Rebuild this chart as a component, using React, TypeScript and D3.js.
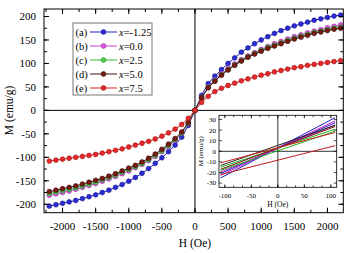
import React from "react";
import * as d3 from "d3";

const H = [-2200,-2100,-2000,-1900,-1800,-1700,-1600,-1500,-1400,-1300,-1200,-1100,-1000,-900,-800,-700,-600,-500,-400,-300,-200,-100,0,100,200,300,400,500,600,700,800,900,1000,1100,1200,1300,1400,1500,1600,1700,1800,1900,2000,2100,2200];

const mBlue = [-204,-201,-198,-195,-192,-188,-184,-180,-175,-170,-164,-158,-151,-143,-134,-124,-113,-101,-88,-74,-57,-32,0,32,57,73,87,100,112,124,133,142,150,157,164,170,175,180,184,188,192,195,198,201,203];
const mMagenta = [-181,-178,-175,-172,-168,-164,-160,-156,-151,-146,-141,-135,-129,-122,-115,-107,-98,-88,-77,-64,-49,-28,0,28,50,65,78,89,99,108,116,123,130,136,142,147,152,157,161,165,169,172,176,179,182];
const mGreen = [-177,-174,-171,-168,-165,-161,-157,-153,-148,-143,-138,-132,-126,-120,-113,-105,-96,-86,-75,-62,-48,-27,0,27,49,63,76,87,97,106,114,121,128,134,139,144,149,154,158,162,166,169,172,175,177];
const mBrown = [-173,-170,-167,-164,-161,-157,-153,-149,-145,-140,-135,-129,-123,-117,-110,-102,-93,-83,-72,-60,-46,-26,0,27,48,62,75,86,96,105,113,120,126,132,137,142,147,152,156,160,164,167,170,173,175];
const mRed = [-108,-106,-104,-102,-100,-98,-96,-94,-91,-88,-85,-82,-78,-74,-70,-66,-61,-55,-48,-40,-30,-17,0,17,30,40,47,53,58,63,67,71,75,78,82,85,88,91,93,96,98,100,102,104,106];

const seriesLabels = ["(a)", "(b)", "(c)", "(d)", "(e)"];
const seriesX = ["-1.25", "0.0", "2.5", "5.0", "7.5"];
const seriesData = [mBlue, mMagenta, mGreen, mBrown, mRed];
const seriesFill = ["#2b2bd6", "#e055e6", "#4fd24f", "#7a1a12", "#e8282a"];
const seriesStroke = ["#15158a", "#9a2aa0", "#2a8a2a", "#3a0a08", "#9a1010"];
const seriesLine = ["#2020c8", "#d040d8", "#30c030", "#401010", "#e02020"];

const xTicks = [-2000, -1500, -1000, -500, 0, 500, 1000, 1500, 2000];
const yTicks = [-200, -150, -100, -50, 0, 50, 100, 150, 200];

// inset: straight branch segments, M at H = -108 and H = 108
const insetH = [-108, 108];
const insetLeft = [-25.2, -21, -22.7, -19.6, -15, -18, -13.4, -17, -10.9, -22];
const insetRight = [31.8, 27, 28.7, 25, 20.9, 19, 24.6, 23.4, 17.8, 5.3];
const insetColor = ["#2020c0", "#2020c0", "#c020c8", "#c020c8", "#20b020", "#20b020", "#202020", "#7a1010", "#d02020", "#c01818"];
const insetXTicks = [-100, -50, 0, 50, 100];
const insetYTicks = [-30, -20, -10, 0, 10, 20, 30];

const FONT = '"Liberation Serif", "Times New Roman", serif';
const TS: React.CSSProperties = { fontFamily: FONT };

export default function App() {
  const x = d3.scaleLinear().domain([-2280, 2240]).range([44, 343.3]);
  const y = d3.scaleLinear().domain([-218, 216]).range([212.7, 9]);
  const [x0, x1] = x.range();
  const [y0, y1] = y.range();

  const xMinor = d3.range(-2250, 2250, 250).filter((v) => v >= -2280 && v <= 2240);
  const yMinor = d3.range(-200, 216, 25);

  const line = d3
    .line<number>()
    .x((_, i) => x(H[i]))
    .y((d) => y(d));

  const xi = d3.scaleLinear().domain([-111, 111]).range([219, 336.7]);
  const yi = d3.scaleLinear().domain([-34, 34]).range([187.3, 115.3]);
  const [xi0, xi1] = xi.range();
  const [yi0, yi1] = yi.range();
  const xiMinor = d3.range(-100, 111, 50 / 3);

  const legX = 73;
  const legY = 23;
  const rowY = (i: number) => 32 + i * 14;

  return (
    <svg
      width={352}
      height={253}
      style={{ position: "fixed", left: 0, top: 0, background: "#fff", fontFamily: FONT }}
    >
      <rect x={0} y={0} width={352} height={253} fill="#fff" />
      <line x1={x(0)} x2={x(0)} y1={y1} y2={y0} stroke="#000" strokeWidth={1} />
      <line x1={x0} x2={x1} y1={y(0)} y2={y(0)} stroke="#000" strokeWidth={1} />

      {seriesData.map((d, k) => (
        <g key={k}>
          <path d={line(d) || ""} fill="none" stroke={seriesLine[k]} strokeWidth={1} />
          {d.map((v, i) => (
            <circle
              key={i}
              cx={x(H[i])}
              cy={y(v)}
              r={2.4}
              fill={seriesFill[k]}
              stroke={seriesStroke[k]}
              strokeWidth={0.6}
            />
          ))}
        </g>
      ))}

      <rect x={x0} y={y1} width={x1 - x0} height={y0 - y1} fill="none" stroke="#000" strokeWidth={1} />
      {xTicks.map((t) => (
        <g key={"xt" + t}>
          <line x1={x(t)} x2={x(t)} y1={y0} y2={y0 - 5} stroke="#000" />
          <line x1={x(t)} x2={x(t)} y1={y1} y2={y1 + 5} stroke="#000" />
          <text x={x(t)} y={230} fontSize={11} textAnchor="middle" fill="#000" style={TS}>
            {t}
          </text>
        </g>
      ))}
      {xMinor.map((t) => (
        <g key={"xm" + t}>
          <line x1={x(t)} x2={x(t)} y1={y0} y2={y0 - 3} stroke="#000" />
          <line x1={x(t)} x2={x(t)} y1={y1} y2={y1 + 3} stroke="#000" />
        </g>
      ))}
      {yTicks.map((t) => (
        <g key={"yt" + t}>
          <line x1={x0} x2={x0 + 5} y1={y(t)} y2={y(t)} stroke="#000" />
          <line x1={x1} x2={x1 - 5} y1={y(t)} y2={y(t)} stroke="#000" />
          <text x={36} y={y(t) + 3.8} fontSize={11} textAnchor="end" fill="#000" style={TS}>
            {t}
          </text>
        </g>
      ))}
      {yMinor.map((t) => (
        <g key={"ym" + t}>
          <line x1={x0} x2={x0 + 3} y1={y(t)} y2={y(t)} stroke="#000" />
          <line x1={x1} x2={x1 - 3} y1={y(t)} y2={y(t)} stroke="#000" />
        </g>
      ))}
      <text x={x(0)} y={247} fontSize={11.5} textAnchor="middle" fill="#000" style={TS}>
        H (Oe)
      </text>
      <text
        transform={`translate(13,${y(0)}) rotate(-90)`}
        fontSize={11.5}
        textAnchor="middle"
        fill="#000"
        style={TS}
      >
        M (emu/g)
      </text>

      <rect x={legX} y={legY} width={79} height={72} fill="#fff" stroke="#777" strokeWidth={1} />
      {seriesLabels.map((lab, i) => (
        <g key={"lg" + i}>
          <text x={75.5} y={rowY(i) + 3.6} fontSize={10.5} fill="#000" style={TS}>
            {lab}
          </text>
          <line x1={90} x2={117} y1={rowY(i)} y2={rowY(i)} stroke={seriesLine[i]} strokeWidth={1} />
          <circle cx={103.5} cy={rowY(i)} r={2.4} fill={seriesFill[i]} stroke={seriesStroke[i]} strokeWidth={0.6} />
          <text x={119} y={rowY(i) + 3.6} fontSize={10.5} fill="#000" style={TS}>
            <tspan fontStyle="italic">x</tspan>={seriesX[i]}
          </text>
        </g>
      ))}

      <rect x={xi0} y={yi1} width={xi1 - xi0} height={yi0 - yi1} fill="#fff" stroke="none" />
      <line x1={xi(0)} x2={xi(0)} y1={yi1} y2={yi0} stroke="#000" strokeWidth={0.8} />
      <line x1={xi0} x2={xi1} y1={yi(0)} y2={yi(0)} stroke="#000" strokeWidth={0.8} />
      {insetLeft.map((l, k) => (
        <line
          key={"il" + k}
          x1={xi(insetH[0])}
          x2={xi(insetH[1])}
          y1={yi(l)}
          y2={yi(insetRight[k])}
          stroke={insetColor[k]}
          strokeWidth={1}
        />
      ))}
      <rect x={xi0} y={yi1} width={xi1 - xi0} height={yi0 - yi1} fill="none" stroke="#000" strokeWidth={0.8} />
      {insetXTicks.map((t) => (
        <g key={"ixt" + t}>
          <line x1={xi(t)} x2={xi(t)} y1={yi0} y2={yi0 - 3} stroke="#000" strokeWidth={0.7} />
          <line x1={xi(t)} x2={xi(t)} y1={yi1} y2={yi1 + 3} stroke="#000" strokeWidth={0.7} />
          <text x={xi(t)} y={197.5} fontSize={7} textAnchor="middle" fill="#000" style={TS}>
            {t}
          </text>
        </g>
      ))}
      {xiMinor.map((t, i) => (
        <g key={"ixm" + i}>
          <line x1={xi(t)} x2={xi(t)} y1={yi0} y2={yi0 - 2} stroke="#000" strokeWidth={0.7} />
          <line x1={xi(t)} x2={xi(t)} y1={yi1} y2={yi1 + 2} stroke="#000" strokeWidth={0.7} />
        </g>
      ))}
      {insetYTicks.map((t) => (
        <g key={"iyt" + t}>
          <line x1={xi0} x2={xi0 + 3} y1={yi(t)} y2={yi(t)} stroke="#000" strokeWidth={0.7} />
          <line x1={xi1} x2={xi1 - 3} y1={yi(t)} y2={yi(t)} stroke="#000" strokeWidth={0.7} />
          <text x={216} y={yi(t) + 2.4} fontSize={7} textAnchor="end" fill="#000" style={TS}>
            {t}
          </text>
        </g>
      ))}
      <text x={xi(0)} y={207} fontSize={7.5} textAnchor="middle" fill="#000" style={TS}>
        H (Oe)
      </text>
      <text
        transform={`translate(202.5,${yi(0)}) rotate(-90)`}
        fontSize={7}
        textAnchor="middle"
        fill="#000"
        style={TS}
      >
        M (emu/g)
      </text>
    </svg>
  );
}
